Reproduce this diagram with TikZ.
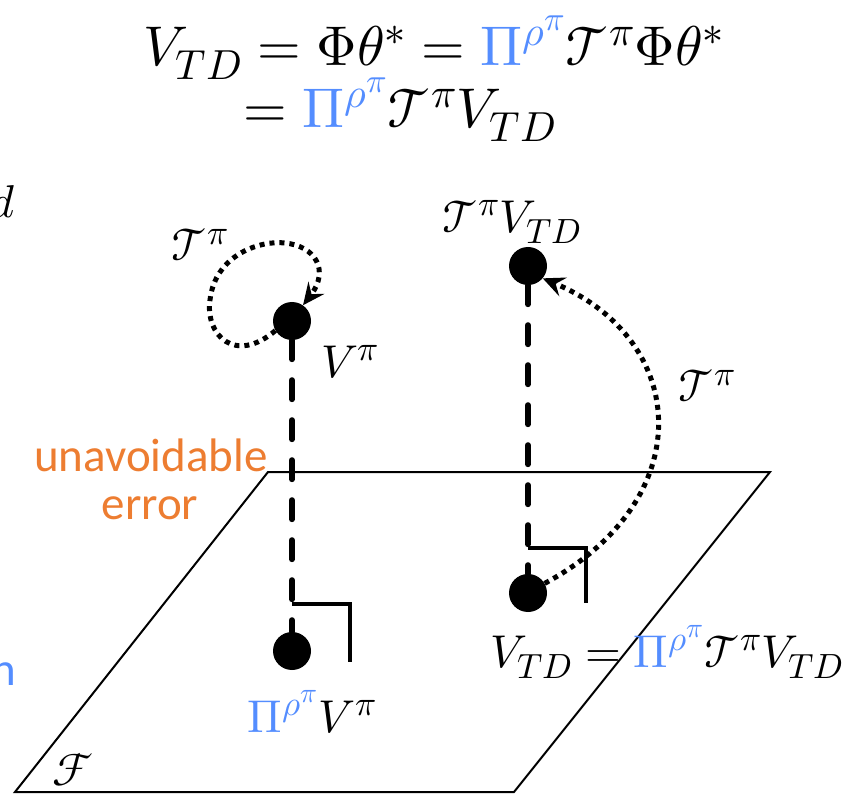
\documentclass[tikz,border=0pt]{standalone}
\usepackage{fontspec}
\usepackage{unicode-math}
\setmathfont{Latin Modern Math}
\setsansfont{Carlito}
\DeclareMathSizes{46}{46}{35}{28}
\DeclareMathSizes{56}{56}{42}{34}
\usetikzlibrary{arrows.meta}
\definecolor{piblue}{RGB}{84,141,255}
\definecolor{errorange}{RGB}{237,125,49}
\newcommand{\PB}{{\color{piblue}\Pi^{\rho^{\pi}}}}
\newcommand{\TT}{\mathcal{T}^{\pi}}
\tikzset{
  ball/.style={circle,fill=black,inner sep=0pt,minimum size=38pt},
  dashline/.style={line width=6pt,line cap=round,dash pattern=on 19pt off 21pt},
  dotline/.style={line width=5pt,dash pattern=on 5pt off 5pt},
  rightangle/.style={line width=4.5pt},
  plane/.style={line width=2pt},
  mlabel/.style={inner sep=0pt,font=\fontsize{46}{52}\selectfont},
  biglabel/.style={inner sep=0pt,font=\fontsize{56}{62}\selectfont},
  errtext/.style={inner sep=0pt,font=\sffamily\fontsize{47}{52}\selectfont,text=errorange},
  tip/.style={-{Stealth[length=22pt,width=20pt,inset=8pt]}}
}
\begin{document}
\begin{tikzpicture}[x=1pt,y=-1pt]
\useasboundingbox (0,0) rectangle (844,794);
% plane
\draw[plane] (268,472) -- (770,472) -- (514,792) -- (15,792) -- cycle;
\node[mlabel] (F) at (73,770) {$\mathcal{F}$};
% balls
\node[ball] (vpi) at (292,321) {};
\node[ball] (pvpi) at (292,651) {};
\node[ball] (tvtd) at (528,266) {};
\node[ball] (vtd) at (528,593) {};
% dashed lines
\draw[dashline] (vpi.south) -- (pvpi.north);
\draw[dashline] (tvtd.south) -- (vtd.north);
% right angle marks
\draw[rightangle] (292,604) -- (350,604) -- (350,662);
\draw[rightangle] (528,548) -- (586,548) -- (586,603);
% dotted arrows
\draw[dotline,tip] (vpi.210) .. controls (235,365) and (205,335) .. (210,300)
   .. controls (215,255) and (260,240) .. (285,243)
   .. controls (315,246) and (330,270) .. (vpi.55);
\draw[dotline,tip] (vtd.30) .. controls (700,500) and (690,340) .. (tvtd.-40);
% labels
\node[biglabel,anchor=base west] (l1) at (143,66) {$V_{TD}=\Phi\theta^{*}=\PB\TT\Phi\theta^{*}$};
\node[biglabel,anchor=base west] (l2) at (243,128) {$=\PB\TT V_{TD}$};
\node[mlabel] (tloop) at (200,245) {$\TT$};
\node[mlabel] (vpil) at (350,362) {$V^{\pi}$};
\node[mlabel] (tvtdl) at (512,222) {$\TT V_{TD}$};
\node[mlabel] (tright) at (707,386) {$\TT$};
\node[mlabel] (pvpil) at (312,712) {$\PB V^{\pi}$};
\node[mlabel] (vtdl) at (667,652) {$V_{TD}=\PB\TT V_{TD}$};
\node[errtext] (e1) at (151,455) {unavoidable};
\node[errtext] (e2) at (150,508) {error};
\node[mlabel,anchor=east] (dcut) at (16,202) {$d$};
\node[inner sep=0pt,font=\sffamily\fontsize{47}{52}\selectfont,text=piblue,anchor=base east] (ncut) at (16,685) {n};
\end{tikzpicture}
\end{document}
